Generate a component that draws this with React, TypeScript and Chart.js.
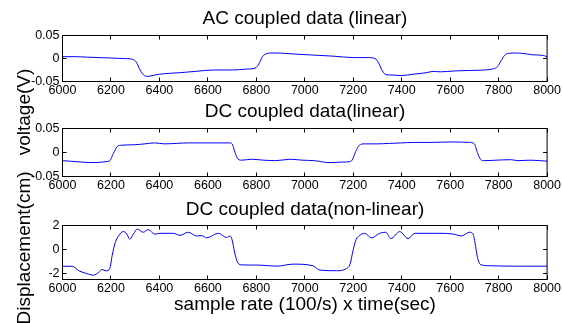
import React, { useEffect, useRef } from "react";
import { Chart, registerables } from "chart.js";

Chart.register(...registerables);

// ---------- data ----------
const xTicks = [6000, 6200, 6400, 6600, 6800, 7000, 7200, 7400, 7600, 7800, 8000];
const xTickLabels = ["6000", "6200", "6400", "6600", "6800", "7000", "7200", "7400", "7600", "7800", "8000"];

const voltTicks = [-0.05, 0, 0.05];
const voltTickLabels = ["-0.05", "0", "0.05"];
const dispTicks = [-2, 0, 2];
const dispTickLabels = ["-2", "0", "2"];

const acX = [6000, 6050, 6100, 6150, 6200, 6250, 6290, 6305, 6320, 6335, 6350, 6380, 6420, 6480, 6550, 6620, 6700, 6760, 6795, 6810, 6825, 6840, 6860, 6880, 6920, 6980, 7050, 7120, 7200, 7260, 7290, 7305, 7320, 7335, 7360, 7400, 7450, 7500, 7530, 7560, 7620, 7680, 7740, 7780, 7795, 7810, 7825, 7840, 7870, 7900, 7940, 7980, 8000];
const acY = [0.004, 0.004, 0.003, 0.002, 0.001, 0.0, -0.002, -0.008, -0.025, -0.036, -0.039, -0.036, -0.033, -0.031, -0.028, -0.025, -0.025, -0.023, -0.021, -0.012, 0.004, 0.01, 0.012, 0.012, 0.011, 0.009, 0.007, 0.005, 0.002, 0.002, 0.0, -0.01, -0.027, -0.035, -0.036, -0.037, -0.034, -0.031, -0.028, -0.029, -0.027, -0.026, -0.025, -0.022, -0.018, -0.005, 0.007, 0.011, 0.012, 0.011, 0.008, 0.007, 0.004];

const dcX = [6000, 6030, 6080, 6130, 6180, 6195, 6210, 6225, 6240, 6290, 6340, 6380, 6420, 6470, 6520, 6600, 6690, 6700, 6712, 6725, 6740, 6780, 6830, 6880, 6940, 6990, 7040, 7100, 7150, 7185, 7195, 7210, 7225, 7245, 7300, 7350, 7400, 7450, 7520, 7610, 7680, 7700, 7712, 7725, 7740, 7790, 7850, 7880, 7930, 7970, 8000];
const dcY = [-0.017, -0.018, -0.02, -0.021, -0.019, -0.017, -0.002, 0.012, 0.015, 0.016, 0.018, 0.02, 0.018, 0.019, 0.02, 0.02, 0.02, 0.018, 0.0, -0.014, -0.016, -0.014, -0.016, -0.017, -0.014, -0.016, -0.017, -0.021, -0.02, -0.019, -0.016, 0.002, 0.015, 0.018, 0.018, 0.019, 0.02, 0.021, 0.021, 0.022, 0.021, 0.018, 0.0, -0.014, -0.017, -0.016, -0.015, -0.017, -0.016, -0.017, -0.018];

const nlX = [6000, 6040, 6070, 6100, 6127, 6150, 6162, 6180, 6195, 6205, 6218, 6232, 6251, 6265, 6278, 6293, 6308, 6333, 6354, 6381, 6402, 6457, 6485, 6519, 6553, 6574, 6595, 6643, 6677, 6691, 6700, 6712, 6725, 6740, 6814, 6883, 6952, 7034, 7062, 7131, 7172, 7187, 7200, 7212, 7225, 7247, 7275, 7309, 7334, 7355, 7392, 7426, 7454, 7557, 7612, 7646, 7680, 7694, 7703, 7712, 7725, 7760, 7857, 8000];
const nlY = [-1.39, -1.4, -1.8, -2.0, -2.14, -1.9, -1.66, -1.78, -1.6, -0.5, 0.6, 1.15, 1.5, 1.3, 0.86, 1.3, 1.7, 1.44, 1.66, 1.28, 1.35, 1.35, 1.18, 1.44, 1.13, 1.16, 0.97, 1.35, 1.0, 1.13, 0.8, -0.4, -1.15, -1.28, -1.3, -1.39, -1.22, -1.36, -1.72, -1.77, -1.58, -1.2, 0.0, 0.85, 1.15, 1.35, 0.97, 1.35, 1.44, 0.91, 1.49, 0.91, 1.35, 1.35, 1.29, 1.13, 1.44, 1.3, 0.5, -0.6, -1.25, -1.35, -1.39, -1.39];

// ---------- styling ----------
const FONT = '"Liberation Sans", Arial, Helvetica, sans-serif';
const W = 563;
const H = 323;

const framePlugin = {
  id: "frameTicks",
  afterDatasetsDraw(chart: any) {
    const { ctx, chartArea: a, scales } = chart;
    const len = 4;
    ctx.save();
    ctx.strokeStyle = "#000";
    ctx.lineWidth = 1;
    ctx.beginPath();
    scales.x.ticks.forEach((t: any) => {
      const p = Math.floor(scales.x.getPixelForValue(t.value)) + 0.5;
      ctx.moveTo(p, a.bottom);
      ctx.lineTo(p, a.bottom - len);
      ctx.moveTo(p, a.top);
      ctx.lineTo(p, a.top + len);
    });
    scales.y.ticks.forEach((t: any) => {
      const p = Math.floor(scales.y.getPixelForValue(t.value)) + 0.5;
      ctx.moveTo(a.left, p);
      ctx.lineTo(a.left + len, p);
      ctx.moveTo(a.right, p);
      ctx.lineTo(a.right - len, p);
    });
    ctx.stroke();
    ctx.strokeRect(a.left, a.top, a.right - a.left, a.bottom - a.top);
    ctx.restore();
  },
};

type SubProps = {
  xs: number[];
  ys: number[];
  yMin: number;
  yMax: number;
  yTicks: number[];
  yTickLabels: string[];
  top: number;
  bottom: number;
};

function SubPlot({ xs, ys, yMin, yMax, yTicks, yTickLabels, top, bottom }: SubProps) {
  const ref = useRef<HTMLCanvasElement | null>(null);
  useEffect(() => {
    if (!ref.current) return;
    const xAxisH = 18;
    const chart = new Chart(ref.current, {
      type: "line",
      data: {
        datasets: [
          {
            data: xs.map((x, i) => ({ x, y: ys[i] })),
            borderColor: "#0000ff",
            borderWidth: 1,
            pointRadius: 0,
            fill: false,
            cubicInterpolationMode: "monotone",
          },
        ],
      },
      options: {
        responsive: false,
        animation: false,
        events: [],
        layout: { padding: { left: 0, right: W - 547.5, top, bottom: H - bottom - xAxisH } },
        plugins: { legend: { display: false }, tooltip: { enabled: false }, title: { display: false } },
        scales: {
          x: {
            type: "linear",
            min: 6000,
            max: 8000,
            afterBuildTicks: (s: any) => {
              s.ticks = xTicks.map((v) => ({ value: v }));
            },
            afterFit: (s: any) => {
              s.height = xAxisH;
            },
            grid: { display: false, drawTicks: false },
            border: { display: false },
            ticks: {
              padding: 2,
              autoSkip: false,
              maxRotation: 0,
              color: "#000",
              font: { family: FONT, size: 12.5 },
              callback: (_v: any, i: number) => xTickLabels[i],
            },
          },
          y: {
            type: "linear",
            min: yMin,
            max: yMax,
            afterBuildTicks: (s: any) => {
              s.ticks = yTicks.map((v) => ({ value: v }));
            },
            afterFit: (s: any) => {
              s.width = 62.5;
            },
            grid: { display: false, drawTicks: false },
            border: { display: false },
            ticks: {
              padding: 3,
              color: "#000",
              font: { family: FONT, size: 12.5 },
              callback: (_v: any, i: number) => yTickLabels[i],
            },
          },
        },
      },
      plugins: [framePlugin],
    } as any);
    return () => chart.destroy();
  }, []);
  return (
    <canvas
      ref={ref}
      width={W}
      height={H}
      style={{ position: "absolute", left: 0, top: 0, width: W, height: H }}
    />
  );
}

const titleStyle: React.CSSProperties = {
  position: "absolute",
  left: 62.5,
  width: 485,
  textAlign: "center",
  fontFamily: FONT,
  fontSize: 19,
  lineHeight: "19px",
  color: "#000",
  whiteSpace: "nowrap",
};

const yLabelStyle: React.CSSProperties = {
  position: "absolute",
  fontFamily: FONT,
  fontSize: 19,
  lineHeight: "19px",
  color: "#000",
  whiteSpace: "nowrap",
  transform: "translate(-50%, -50%) rotate(-90deg)",
};

export default function App() {
  return (
    <div
      style={{
        position: "absolute",
        left: 0,
        top: 0,
        width: W,
        height: H,
        background: "#fff",
        overflow: "hidden",
      }}
    >
      <SubPlot xs={acX} ys={acY} yMin={-0.05} yMax={0.05} yTicks={voltTicks} yTickLabels={voltTickLabels} top={35.5} bottom={81.5} />
      <SubPlot xs={dcX} ys={dcY} yMin={-0.05} yMax={0.05} yTicks={voltTicks} yTickLabels={voltTickLabels} top={128.5} bottom={176.5} />
      <SubPlot xs={nlX} ys={nlY} yMin={-2.5} yMax={2} yTicks={dispTicks} yTickLabels={dispTickLabels} top={225.5} bottom={279.5} />
      <div style={{ ...titleStyle, top: 8 }}>AC coupled data (linear)</div>
      <div style={{ ...titleStyle, top: 100.6 }}>DC coupled data(linear)</div>
      <div style={{ ...titleStyle, top: 199 }}>DC coupled data(non-linear)</div>
      <div style={{ ...titleStyle, top: 294.4 }}>sample rate (100/s) x time(sec)</div>
      <div style={{ ...yLabelStyle, left: 23.2, top: 111.7 }}>voltage(V)</div>
      <div style={{ ...yLabelStyle, left: 23.2, top: 247.7 }}>Displacement(cm)</div>
    </div>
  );
}
